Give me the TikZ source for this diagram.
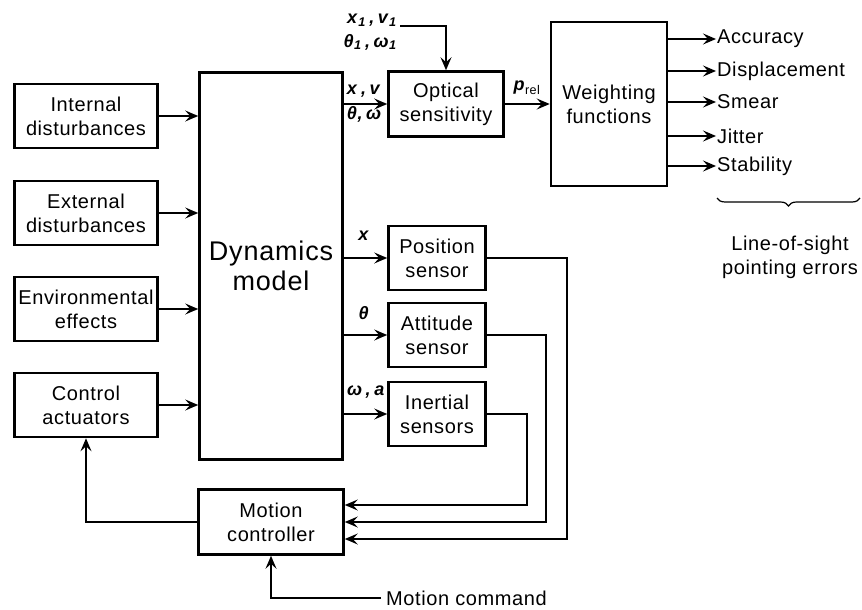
\documentclass[tikz,border=0pt]{standalone}
\usepackage{fontspec}
\setmainfont[LetterSpace=3]{Liberation Sans}
\usepackage{tikz}
\usetikzlibrary{arrows.meta,calc,decorations.pathreplacing}
\newcommand{\sig}[1]{\textbf{\textit{#1}}}

\begin{document}
\begin{tikzpicture}[x=1pt,y=1pt,yscale=-1,xscale=1,
    blk/.style={draw, line width=2.6pt, align=center, inner sep=0pt,
        font=\fontsize{20}{24}\selectfont},
    wire/.style={line width=1.3pt},
    arr/.style={wire, -{Stealth[length=13pt,width=11pt,inset=5pt]}},
    lbl/.style={inner sep=0.75pt, font=\fontsize{18}{21}\selectfont}]
    \useasboundingbox (0,0) rectangle (862,610);

    % Input blocks
    \node[blk, minimum width=143, minimum height=64] (intd) at (86,116) {Internal\\disturbances};
    \node[blk, minimum width=143, minimum height=64] (extd) at (86,213) {External\\disturbances};
    \node[blk, minimum width=143, minimum height=64] (envf) at (86,309) {Environmental\\effects};
    \node[blk, minimum width=143, minimum height=64] (ctrla) at (86,405) {Control\\actuators};

    % Plant
    \node[blk, minimum width=143, minimum height=387, font=\fontsize{27}{30}\selectfont] (dyn) at (271,266) {Dynamics\\model};

    % Optics
    \node[blk, minimum width=115, minimum height=65] (opt) at (446,104) {Optical\\sensitivity};
    \node[blk, minimum width=116, minimum height=164] (wgt) at (609,104) {Weighting\\functions};

    % Sensors
    \node[blk, minimum width=97, minimum height=64] (pos) at (437,258) {Position\\sensor};
    \node[blk, minimum width=97, minimum height=64] (att) at (437,335) {Attitude\\sensor};
    \node[blk, minimum width=97, minimum height=64] (ine) at (437,414) {Inertial\\sensors};

    % Controller
    \node[blk, minimum width=145, minimum height=65] (mctl) at (271,522) {Motion\\controller};

    % Inputs to the dynamics model
    \foreach \src in {intd,extd,envf,ctrla}
        \draw[arr] (\src.east) -- (\src.east -| dyn.west);

    % Dynamics outputs
    \draw[arr] (dyn.east |- opt.west) -- (opt.west);
    \draw[arr] (dyn.east |- pos.west) -- (pos.west);
    \draw[arr] (dyn.east |- att.west) -- (att.west);
    \draw[arr] (dyn.east |- ine.west) -- (ine.west);
    \draw[arr] (opt.east) -- (opt.east -| wgt.west);

    % Reference line of sight
    \coordinate (ref) at (400,26);
    \draw[arr] (ref) -- (ref -| opt.north) -- (opt.north);

    % Signal labels
    \node[lbl, anchor=east] (lref1) at (398,20) {\sig{x}\textsubscript{\sig{1}}\,\sig{,}\,\sig{v}\textsubscript{\sig{1}}};
    \node[lbl, anchor=east] (lref2) at (398,42) {\sig{θ}\textsubscript{\sig{1}}\,\sig{,}\,\sig{ω}\textsubscript{\sig{1}}};
    \node[lbl, anchor=west] (lxv) at (346,91) {\sig{x}\,\sig{,}\,\sig{v}};
    \node[lbl, anchor=west] (lthw) at (346,114) {\sig{θ}\sig{,}\,\sig{ω}};
    \node[lbl] (lprel) at (527,88) {\sig{p}\textsubscript{rel}};
    \node[lbl] (lx) at (364,236) {\sig{x}};
    \node[lbl] (lth) at (364,313) {\sig{θ}};
    \node[lbl] (lwa) at (366,392) {\sig{ω}\,\sig{,}\,\sig{a}};

    % Error outputs
    \foreach \name/\ypos [count=\i] in {Accuracy/39,Displacement/71,Smear/102,Jitter/136,Stability/166}
        \node[anchor=west, inner sep=1pt, font=\fontsize{20}{24}\selectfont] (out\i) at (716,\ypos) {\name};
    \foreach \i in {1,...,5}
        \draw[arr] (wgt.east |- out\i.west) -- (out\i.west);

    % Brace
    \coordinate (brl) at (717,198);
    \coordinate (brr) at (860,198);
    \draw[line width=1.2pt, decorate, decoration={brace, mirror, amplitude=8pt}] (brl) -- (brr);
    \node[align=center, inner sep=0pt, font=\fontsize{20}{24}\selectfont] (loserr) at (790,257) {Line-of-sight\\pointing errors};

    % Feedback
    \draw[arr] (ine.east) -- (ine.east -| 527,0) |- ($(mctl.east)+(0,-17)$);
    \draw[arr] (att.east) -- (att.east -| 546,0) |- (mctl.east);
    \draw[arr] (pos.east) -- (pos.east -| 567,0) |- ($(mctl.east)+(0,17)$);
    \draw[arr] (mctl.west) -| (ctrla.south);

    % Command
    \node[anchor=west, inner sep=5pt, font=\fontsize{20}{24}\selectfont] (cmd) at (381,598) {Motion command};
    \draw[arr] (cmd.west) -- ++(-110,0) -| (mctl.south);
\end{tikzpicture}
\end{document}
